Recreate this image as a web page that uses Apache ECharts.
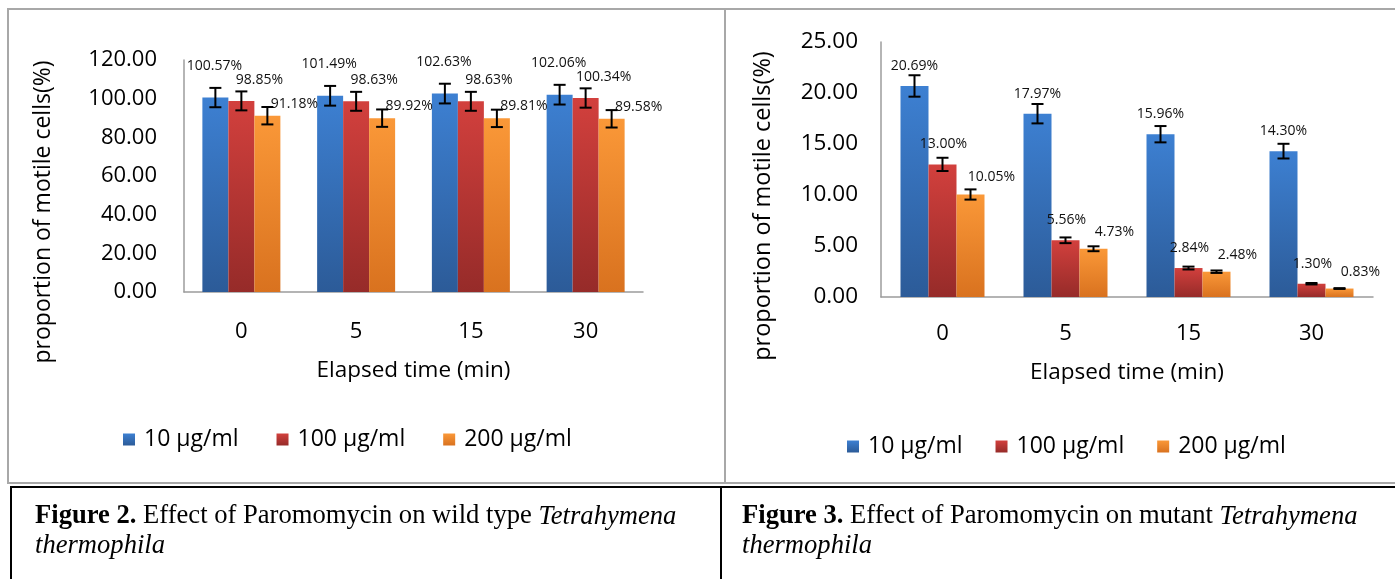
<!DOCTYPE html>
<html><head><meta charset="utf-8">
<script src="https://cdn.jsdelivr.net/npm/echarts@6/dist/echarts.min.js"></script>
<style>html,body{margin:0;padding:0;background:#fff}#c{width:1395px;height:579px}</style>
</head><body><div id="c"></div>
<script>
// ---- data ----
const categories = ['0', '5', '15', '30'];
const seriesNames = ['10 μg/ml', '100 μg/ml', '200 μg/ml'];

// Figure 2: wild type
const wt10 = [100.57, 101.49, 102.63, 102.06];
const wt100 = [98.85, 98.63, 98.63, 100.34];
const wt200 = [91.18, 89.92, 89.81, 89.58];
const wt10Err = [5.0, 5.1, 5.1, 5.1];
const wt100Err = [4.9, 4.9, 4.9, 5.0];
const wt200Err = [4.5, 4.5, 4.5, 4.5];
const wtYAxis = { min: 0, max: 120, step: 20 };

// Figure 3: mutant
const mu10 = [20.69, 17.97, 15.96, 14.30];
const mu100 = [13.00, 5.56, 2.84, 1.30];
const mu200 = [10.05, 4.73, 2.48, 0.83];
const mu10Err = [1.05, 0.95, 0.80, 0.72];
const mu100Err = [0.65, 0.28, 0.14, 0.07];
const mu200Err = [0.50, 0.24, 0.12, 0.04];
const muYAxis = { min: 0, max: 25, step: 5 };

const xTitle = 'Elapsed time (min)';
const yTitle = 'proportion of motile cells(%)';

// ---- styling ----
const SANS = '"Open Sans", "Noto Sans", sans-serif';
const SERIF = '"Liberation Serif", "Times New Roman", serif';
function grad(top, bottom) {
  return new echarts.graphic.LinearGradient(0, 0, 0, 1, [
    { offset: 0, color: top }, { offset: 1, color: bottom }]);
}
const colors = [grad('#3d80d2', '#2c5b98'), grad('#d2403d', '#962b29'), grad('#fa9838', '#d9721f')];

const chart = echarts.init(document.getElementById('c'), null, { renderer: 'canvas' });

function errRender(offset) {
  return function (params, api) {
    const c = api.coord([api.value(0), api.value(1)]);
    const x = c[0] + offset;
    const hi = api.coord([api.value(0), api.value(1) + api.value(2)])[1];
    const lo = api.coord([api.value(0), api.value(1) - api.value(2)])[1];
    const w = 6;
    const st = { stroke: '#000', lineWidth: 2 };
    return { type: 'group', children: [
      { type: 'line', shape: { x1: x, y1: hi, x2: x, y2: lo }, style: st },
      { type: 'line', shape: { x1: x - w, y1: hi, x2: x + w, y2: hi }, style: st },
      { type: 'line', shape: { x1: x - w, y1: lo, x2: x + w, y2: lo }, style: st }
    ] };
  };
}

function barSeries(idx, gridIdx, values, barW, lab) {
  return {
    type: 'bar', name: seriesNames[idx], xAxisIndex: gridIdx, yAxisIndex: gridIdx,
    data: values, barWidth: barW, barGap: '0%',
    itemStyle: { color: colors[idx] },
    label: {
      show: true, position: 'top', distance: lab.d, offset: [lab.dx, 0],
      formatter: p => p.value.toFixed(2) + '%',
      fontFamily: SANS, fontSize: 14, color: '#111'
    },
    z: 2
  };
}
function errSeries(gridIdx, values, errs, offset) {
  return {
    type: 'custom', xAxisIndex: gridIdx, yAxisIndex: gridIdx,
    data: values.map((v, i) => [i, v, errs[i]]),
    renderItem: errRender(offset), z: 3, silent: true
  };
}

const axisLineStyle = { lineStyle: { color: '#9c9c9c', width: 1.5 } };

function xAxisCfg(gridIdx, margin, nameGap) {
  return {
    type: 'category', gridIndex: gridIdx, data: categories,
    axisLine: axisLineStyle, axisTick: { show: false },
    axisLabel: { fontFamily: SANS, fontSize: 22, color: '#000', margin: margin },
    name: xTitle, nameLocation: 'middle', nameGap: nameGap,
    nameTextStyle: { fontFamily: SANS, fontSize: 22.5, color: '#000' }
  };
}
function yAxisCfg(gridIdx, ax, margin, fs) {
  return {
    type: 'value', gridIndex: gridIdx, min: ax.min, max: ax.max, interval: ax.step,
    axisLine: { show: true, ...axisLineStyle }, axisTick: { show: false },
    splitLine: { show: false },
    axisLabel: { fontFamily: SANS, fontSize: fs, color: '#000', margin: margin,
      formatter: v => v.toFixed(2) }
  };
}
function legendCfg(left, top, gap) {
  return {
    data: seriesNames.map((n, i) => ({ name: n, itemStyle: { color: colors[i] } })),
    left: left, top: top, icon: 'rect', itemWidth: 12, itemHeight: 12, itemGap: gap,
    selectedMode: false,
    textStyle: { fontFamily: SANS, fontSize: 23, color: '#000', padding: [0, 0, 0, 4] }
  };
}

const W1 = 26, W2 = 28;
const option = {
  animation: false,
  backgroundColor: '#fff',
  grid: [
    { left: 184, top: 60, width: 459, height: 232, outerBoundsMode: 'none' },
    { left: 881, top: 42, width: 492, height: 255, outerBoundsMode: 'none' }
  ],
  xAxis: [xAxisCfg(0, 29, 67), xAxisCfg(1, 26, 64)],
  yAxis: [yAxisCfg(0, wtYAxis, 27, 22), yAxisCfg(1, muYAxis, 23, 22.5)],
  legend: [legendCfg(118, 423, 38), legendCfg(842, 430, 33)],
  series: [
    barSeries(0, 0, wt10, W1, { d: 25, dx: -1 }),
    barSeries(1, 0, wt100, W1, { d: 14, dx: 18 }),
    barSeries(2, 0, wt200, W1, { d: 5, dx: 27 }),
    errSeries(0, wt10, wt10Err, -W1),
    errSeries(0, wt100, wt100Err, 0),
    errSeries(0, wt200, wt200Err, W1),
    barSeries(0, 1, mu10, W2, { d: 13, dx: 0 }),
    barSeries(1, 1, mu100, W2, { d: 13, dx: 1 }),
    barSeries(2, 1, mu200, W2, { d: 10, dx: 21 }),
    errSeries(1, mu10, mu10Err, -W2),
    errSeries(1, mu100, mu100Err, 0),
    errSeries(1, mu200, mu200Err, W2)
  ],
  graphic: [
    { type: 'rect', shape: { x: 8, y: 9, width: 717, height: 474 },
      style: { fill: 'none', stroke: '#a8a8a8', lineWidth: 2 }, z: -1 },
    { type: 'rect', shape: { x: 725, y: 9, width: 690, height: 474 },
      style: { fill: 'none', stroke: '#a8a8a8', lineWidth: 2 }, z: -1 },
    { type: 'line', shape: { x1: 10, y1: 487, x2: 1395, y2: 487 },
      style: { stroke: '#000', lineWidth: 2 } },
    { type: 'line', shape: { x1: 11, y1: 487, x2: 11, y2: 579 },
      style: { stroke: '#000', lineWidth: 2 } },
    { type: 'line', shape: { x1: 721, y1: 487, x2: 721, y2: 579 },
      style: { stroke: '#000', lineWidth: 2 } },
    { type: 'text', x: 43, y: 212, rotation: Math.PI / 2,
      style: { text: yTitle, fontFamily: SANS, fontSize: 23, fill: '#000',
        align: 'center', verticalAlign: 'middle' } },
    { type: 'text', x: 763, y: 206, rotation: Math.PI / 2,
      style: { text: yTitle, fontFamily: SANS, fontSize: 23.5, fill: '#000',
        align: 'center', verticalAlign: 'middle' } },
    { type: 'text', x: 35, y: 502,
      style: { text: '{b|Figure 2.} Effect of Paromomycin on wild type {i|Tetrahymena}\n{i|thermophila}',
        rich: { b: { fontWeight: 'bold', fontFamily: SERIF, fontSize: 26.6 },
                i: { fontStyle: 'italic', fontFamily: SERIF, fontSize: 26.6 } },
        fontFamily: SERIF, fontSize: 26.6, lineHeight: 29, fill: '#000',
        align: 'left', verticalAlign: 'top' } },
    { type: 'text', x: 742, y: 502,
      style: { text: '{b|Figure 3.} Effect of Paromomycin on mutant {i|Tetrahymena}\n{i|thermophila}',
        rich: { b: { fontWeight: 'bold', fontFamily: SERIF, fontSize: 26.6 },
                i: { fontStyle: 'italic', fontFamily: SERIF, fontSize: 26.6 } },
        fontFamily: SERIF, fontSize: 26.6, lineHeight: 29, fill: '#000',
        align: 'left', verticalAlign: 'top' } }
  ]
};
chart.setOption(option);
</script>
</body></html>
